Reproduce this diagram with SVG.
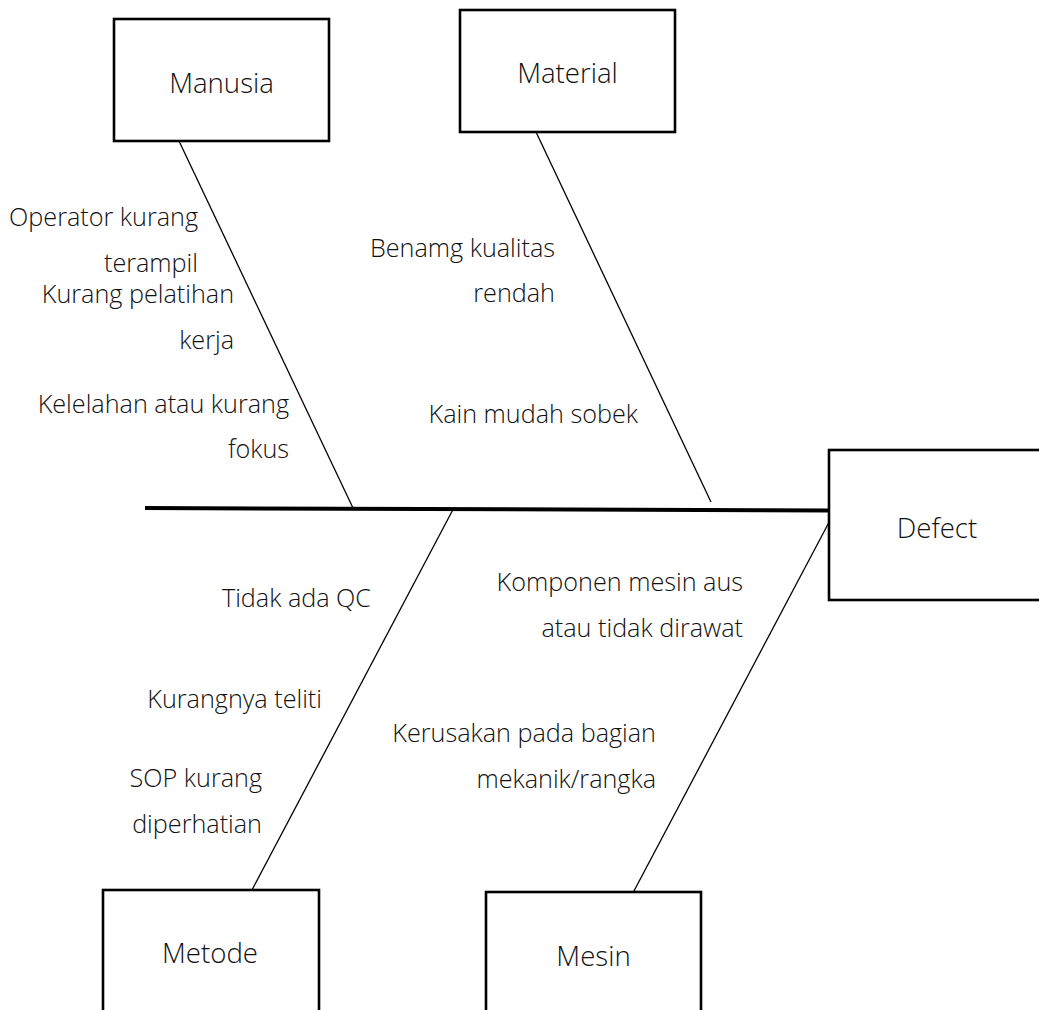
<svg xmlns="http://www.w3.org/2000/svg" width="1039" height="1010" viewBox="0 0 1039 1010">
<style>
.box{fill:#fff;stroke:#000;stroke-width:2.6}
.bone{stroke:#000;stroke-width:1.3;fill:none}
.spine{stroke:#000;stroke-width:4;fill:none}
text{font-family:"Open Sans","Liberation Sans",sans-serif;font-size:25.2px;font-weight:300;fill:#111}
.t{text-anchor:middle;font-size:27.6px}
.c{text-anchor:end}
</style>
<rect width="1039" height="1010" fill="#fff"/>
<g id="connectors">
<line class="spine" x1="145" y1="508" x2="829" y2="510.5"/>
<line class="bone" x1="179" y1="141" x2="353" y2="508"/>
<line class="bone" x1="536" y1="132" x2="711" y2="502"/>
<line class="bone" x1="453" y1="509.5" x2="252" y2="890"/>
<line class="bone" x1="829.3" y1="521.7" x2="633.3" y2="892.3"/>
</g>
<g id="manusia">
<rect class="box" x="114" y="19" width="215" height="122"/>
<text class="t" x="221.5" y="93">Manusia</text>
</g>
<g id="material">
<rect class="box" x="460" y="10" width="215" height="122"/>
<text class="t" x="567.5" y="83">Material</text>
</g>
<g id="defect">
<rect class="box" x="829" y="450" width="230" height="150"/>
<text class="t" x="937" y="538">Defect</text>
</g>
<g id="metode">
<rect class="box" x="103" y="890" width="216" height="140"/>
<text class="t" x="210" y="963">Metode</text>
</g>
<g id="mesin">
<rect class="box" x="486" y="892" width="215" height="140"/>
<text class="t" x="593.5" y="966">Mesin</text>
</g>
<g id="causes-manusia">
<text class="c" x="198" y="226">Operator kurang</text>
<text class="c" x="198" y="272">terampil</text>
<text class="c" x="234" y="303">Kurang pelatihan</text>
<text class="c" x="234" y="349">kerja</text>
<text class="c" x="289" y="413">Kelelahan atau kurang</text>
<text class="c" x="289" y="458">fokus</text>
</g>
<g id="causes-material">
<text class="c" x="555" y="257">Benamg kualitas</text>
<text class="c" x="555" y="302">rendah</text>
<text class="c" x="638" y="423">Kain mudah sobek</text>
</g>
<g id="causes-metode">
<text class="c" x="371" y="607">Tidak ada QC</text>
<text class="c" x="322" y="708">Kurangnya teliti</text>
<text class="c" x="262" y="787">SOP kurang</text>
<text class="c" x="262" y="833">diperhatian</text>
</g>
<g id="causes-mesin">
<text class="c" x="743" y="591">Komponen mesin aus</text>
<text class="c" x="743" y="637">atau tidak dirawat</text>
<text class="c" x="656" y="742">Kerusakan pada bagian</text>
<text class="c" x="656" y="788">mekanik/rangka</text>
</g>
</svg>
